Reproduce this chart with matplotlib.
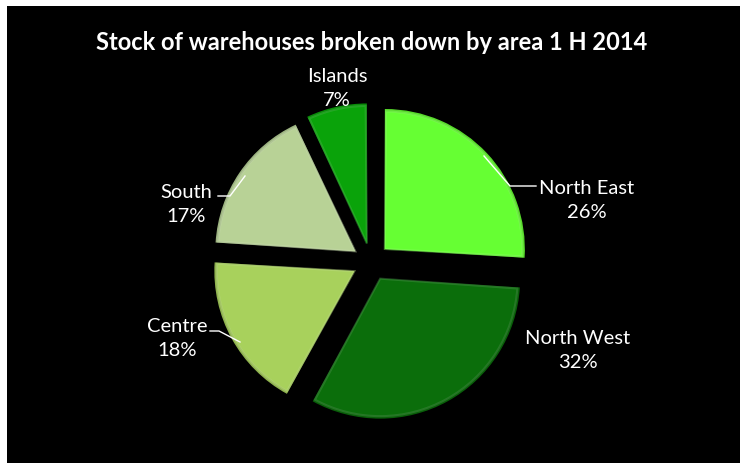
import matplotlib
matplotlib.use("Agg")
import matplotlib.pyplot as plt
import matplotlib.patches as mpatches
from matplotlib.colors import to_rgb
import numpy as np

plt.rcParams['font.family'] = ['Lato', 'DejaVu Sans']

# data, clockwise from 12 o'clock
areas = ['North East', 'North West', 'Centre', 'South', 'Islands']
shares = [26, 32, 18, 17, 7]
colors = ['#66FF33', '#0B6E0B', '#A8D15C', '#B8D296', '#0AA30A']
title = 'Stock of warehouses broken down by area 1 H 2014'

W, H = 740, 464
fig = plt.figure(figsize=(W / 100, H / 100), dpi=100, facecolor='white')
ax = fig.add_axes([0, 0, 1, 1])


def py(y):
    # pixel row (top down) -> data y
    return H - y


# black chart area
ax.add_patch(mpatches.Rectangle((7, 0), W - 7, H - 7, facecolor='black', zorder=0))

cx, cy, r = 371, py(263), 140
wedges, _ = ax.pie(shares, colors=colors, startangle=90, counterclock=False,
                   explode=[19] * len(shares), radius=r, center=(cx, cy),
                   frame=True, wedgeprops=dict(linewidth=0, zorder=2))
ax.set_xlim(0, W)
ax.set_ylim(0, H)
ax.set_aspect('equal')
ax.axis('off')


def mix(c, t, k):
    a = np.array(to_rgb(c)); b = np.array(to_rgb(t))
    return tuple(a + (b - a) * k)


# fake bevel: darker outer skin, body, lighter rim
for w, c in zip(wedges, colors):
    w.set_facecolor(mix(c, 'black', 0.15))
    body = mpatches.Wedge(w.center, r - 3, w.theta1 + 0.6, w.theta2 - 0.6,
                          facecolor=c, linewidth=0, zorder=3)
    ax.add_patch(body)
    rim = mpatches.Wedge(w.center, r - 2.5, w.theta1 + 0.5, w.theta2 - 0.5,
                         facecolor='none', edgecolor=mix(c, 'white', 0.25),
                         linewidth=1.5, alpha=0.45, zorder=4)
    ax.add_patch(rim)

ax.text(W / 2 + 2, py(42), title, color='white', fontsize=17, fontweight='bold',
        ha='center', va='center')

lab_pos = [(587, 200), (578, 351), (177, 339), (186, 205), (337, 88)]
for name, val, (x, y) in zip(areas, shares, lab_pos):
    ax.text(x, py(y), f'{name}\n{val}%', color='white', fontsize=14.5,
            ha='center', va='center', linespacing=1.5)

# leader lines
leaders = [
    [(484, 157), (510, 187), (536, 187)],
    [(210, 332), (219, 332), (240, 343)],
    [(218, 197), (230, 197), (245, 177)],
]
for pts in leaders:
    xs = [p[0] for p in pts]
    ys = [py(p[1]) for p in pts]
    ax.plot(xs, ys, color='white', linewidth=1, zorder=5)

fig.savefig('out.png', dpi=100, facecolor='white')
